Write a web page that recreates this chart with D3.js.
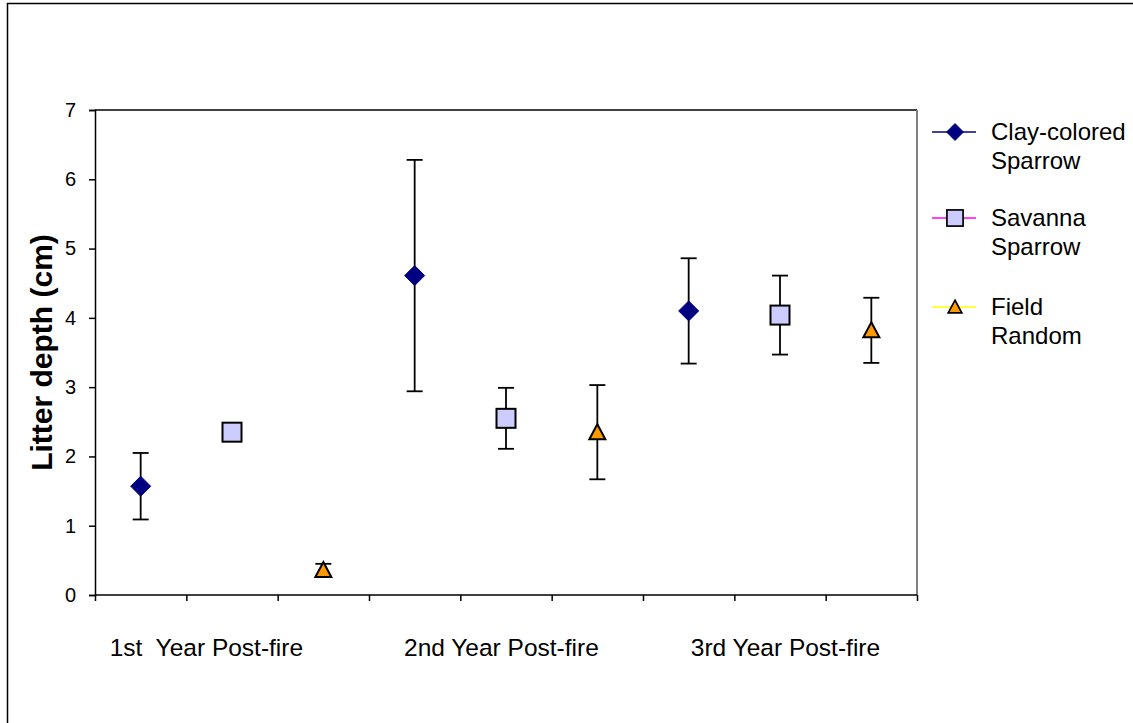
<!DOCTYPE html>
<html><head><meta charset="utf-8">
<script src="https://cdn.jsdelivr.net/npm/d3@7"></script>
<style>body{margin:0;background:#fff}svg{display:block;font-family:"Liberation Sans",Arial,sans-serif}</style>
</head><body><svg id="c" width="1133" height="723"></svg>
<script>
// Data
const groups = ["1st  Year Post-fire", "2nd Year Post-fire", "3rd Year Post-fire"];
const groupLabelPos = [1.22, 4.45, 7.56];
const seriesNames = ["Clay-colored Sparrow", "Savanna Sparrow", "Field Random"];
const clayMeans = [1.57, 4.61, 4.10];
const clayErr   = [0.48, 1.67, 0.76];
const savMeans  = [2.35, 2.55, 4.04];
const savErr    = [0.05, 0.44, 0.57];
const fieldMeans= [0.36, 2.35, 3.82];
const fieldErr  = [0.09, 0.68, 0.47];
const yTicks = [0,1,2,3,4,5,6,7];

const series = [
  {name:"Clay-colored Sparrow", lines:["Clay-colored","Sparrow"], means:clayMeans, err:clayErr, slot:0, shape:"diamond", fill:"#000080", stroke:"#000080", line:"#000080"},
  {name:"Savanna Sparrow", lines:["Savanna","Sparrow"], means:savMeans, err:savErr, slot:1, shape:"square", fill:"#CCCCFF", stroke:"#000", line:"#FF00FF"},
  {name:"Field Random", lines:["Field","Random"], means:fieldMeans, err:fieldErr, slot:2, shape:"triangle", fill:"#FF9900", stroke:"#000", line:"#FFFF00"}
];

const svg = d3.select("#c");
const L=95, R=917, T=110, B=595;
const x = d3.scaleLinear().domain([0,9]).range([L,R]);
const y = d3.scaleLinear().domain([0,7]).range([B,T]);

// outer border
svg.append("path").attr("d","M7.5,723V3.5H1133").attr("fill","none").attr("stroke","#000").attr("stroke-width",1.5);

// plot area border (top, right)
svg.append("line").attr("x1",L).attr("x2",R).attr("y1",T).attr("y2",T).attr("stroke","#000").attr("stroke-width",1.5);
svg.append("line").attr("x1",R).attr("x2",R).attr("y1",T).attr("y2",B).attr("stroke","#808080").attr("stroke-width",2);

// y axis
const ya = svg.append("g").attr("transform",`translate(${L},0)`)
  .call(d3.axisLeft(y).tickValues(yTicks).tickSize(6).tickPadding(13).tickFormat(d3.format("d")));
ya.selectAll("path,line").attr("stroke","#000").attr("stroke-width",1.5);
ya.selectAll("text").attr("font-size",20).attr("font-family","Liberation Sans, Arial").attr("fill","#000");

// x axis
const xa = svg.append("g").attr("transform",`translate(0,${B})`)
  .call(d3.axisBottom(x).tickValues(d3.range(0,10)).tickSize(6).tickFormat(""));
xa.selectAll("path,line").attr("stroke","#000").attr("stroke-width",1.5);
xa.select(".domain").attr("d",`M${L},0H${R}`);

// group labels
svg.append("g").selectAll("text").data(groups).join("text")
  .attr("x",(d,i)=>x(groupLabelPos[i])).attr("y",656).attr("text-anchor","middle")
  .attr("font-size",24.5).attr("fill","#000").style("white-space","pre").attr("xml:space","preserve").text(d=>d);

// y title
svg.append("text").attr("transform",`translate(52,${(T+B)/2}) rotate(-90)`)
  .attr("text-anchor","middle").attr("font-size",30).attr("font-weight","bold").text("Litter depth (cm)");

function marker(g, shape, fill, stroke){
  if(shape==="diamond"){
    g.append("path").attr("d","M0,-10L10,0L0,10L-10,0Z").attr("fill",fill).attr("stroke",stroke).attr("stroke-width",1);
  } else if(shape==="square"){
    g.append("rect").attr("x",-9.5).attr("y",-9.5).attr("width",19).attr("height",19).attr("fill",fill).attr("stroke",stroke).attr("stroke-width",2);
  } else {
    g.append("path").attr("d","M0,-8L8,7L-8,7Z").attr("fill",fill).attr("stroke",stroke).attr("stroke-width",2).attr("stroke-linejoin","miter");
  }
}

// error bars + markers
series.forEach(s=>{
  const pts = s.means.map((m,i)=>({m, e:s.err[i], xi:i*3+s.slot+0.5}));
  const g = svg.append("g");
  pts.forEach(p=>{
    const cx = x(p.xi);
    const eb = g.append("g").attr("stroke","#000").attr("stroke-width",1.8);
    eb.append("line").attr("x1",cx).attr("x2",cx).attr("y1",y(p.m+p.e)).attr("y2",y(p.m-p.e));
    eb.append("line").attr("x1",cx-8).attr("x2",cx+8).attr("y1",y(p.m+p.e)).attr("y2",y(p.m+p.e));
    eb.append("line").attr("x1",cx-8).attr("x2",cx+8).attr("y1",y(p.m-p.e)).attr("y2",y(p.m-p.e));
  });
  pts.forEach(p=>{
    const mg = g.append("g").attr("transform",`translate(${x(p.xi)},${y(p.m)})`);
    marker(mg, s.shape, s.fill, s.stroke);
  });
});

// legend
const leg = svg.append("g");
const legY = [132, 218, 307];
series.forEach((s,i)=>{
  const ly = legY[i];
  leg.append("line").attr("x1",932).attr("x2",976).attr("y1",ly).attr("y2",ly).attr("stroke",s.line).attr("stroke-width",1.5);
  const mg = leg.append("g").attr("transform",`translate(955,${ly}) scale(0.85)`);
  marker(mg, s.shape, s.fill, s.stroke);
  s.lines.forEach((t,j)=>{
    leg.append("text").attr("x",991).attr("y",ly+8+j*29).attr("font-size",24).attr("fill","#000").text(t);
  });
});
</script></body></html>
